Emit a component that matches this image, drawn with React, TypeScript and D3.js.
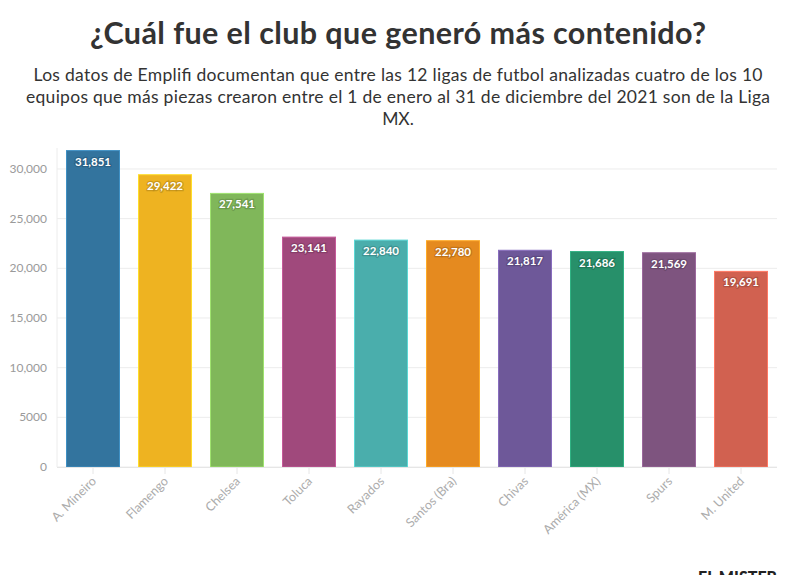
import { useEffect, useRef } from 'react'
import * as d3 from 'd3'

const clubs = ['A. Mineiro', 'Flamengo', 'Chelsea', 'Toluca', 'Rayados', 'Santos (Bra)', 'Chivas', 'América (MX)', 'Spurs', 'M. United']
const piezas = [31851, 29422, 27541, 23141, 22840, 22780, 21817, 21686, 21569, 19691]
const colores = ['#33749e', '#eeb321', '#80b75a', '#a0497c', '#4aaeac', '#e58a1f', '#6e5899', '#27906a', '#7e547f', '#d16150']
const yTicks = [0, 5000, 10000, 15000, 20000, 25000, 30000]
const subtitulo = [
  'Los datos de Emplifi documentan que entre las 12 ligas de futbol analizadas cuatro de los 10',
  'equipos que más piezas crearon entre el 1 de enero al 31 de diciembre del 2021 son de la Liga',
  'MX.',
]

const FONT = '"Source Sans Pro", Lato, "Open Sans", sans-serif'

export default function App() {
  const svgRef = useRef<SVGSVGElement>(null)

  useEffect(() => {
    if (!svgRef.current) return
    const width = 796
    const height = 575
    const left = 57
    const right = 777
    const bottom = 467

    const svg = d3.select(svgRef.current)
    svg.selectAll('*').remove()
    svg.attr('width', width).attr('height', height)

    svg.append('rect').attr('width', width).attr('height', height).attr('fill', '#fff')

    // Title + subtitle
    svg.append('text')
      .attr('x', width / 2).attr('y', 44)
      .attr('text-anchor', 'middle')
      .attr('font-family', FONT).attr('font-weight', 700).attr('font-size', 30.5)
      .attr('fill', '#333')
      .attr('textLength', 616).attr('lengthAdjust', 'spacing')
      .text('¿Cuál fue el club que generó más contenido?')

    const subLen = [729, 744, null]
    svg.append('g').selectAll('text').data(subtitulo).join('text')
      .attr('x', width / 2).attr('y', (_, i) => 81 + i * 22)
      .attr('text-anchor', 'middle')
      .attr('font-family', FONT).attr('font-size', 17.5)
      .attr('fill', '#333')
      .attr('textLength', (_, i) => subLen[i])
      .attr('lengthAdjust', 'spacing')
      .text((d) => d)

    const x = d3.scaleBand(clubs, [left, right]).paddingInner(0.25).paddingOuter(0.125)
    const y = d3.scaleLinear([0, 32000], [bottom, bottom - 317.9])

    // gridlines
    svg.append('g').selectAll('line').data(yTicks).join('line')
      .attr('x1', left).attr('x2', right)
      .attr('y1', (d) => y(d)).attr('y2', (d) => y(d))
      .attr('stroke', '#ececec').attr('stroke-width', 1)

    svg.append('line')
      .attr('x1', left).attr('x2', left).attr('y1', 148).attr('y2', bottom)
      .attr('stroke', '#ececec')

    // y labels
    const fmt = (d: number) => (d >= 10000 ? d3.format(',')(d) : String(d))
    svg.append('g').selectAll('text').data(yTicks).join('text')
      .attr('x', 47).attr('y', (d) => y(d) + 4)
      .attr('text-anchor', 'end')
      .attr('font-family', FONT).attr('font-size', 12)
      .attr('fill', '#9a9a9a')
      .text((d) => fmt(d))

    // bars
    const g = svg.append('g')
    g.selectAll('rect').data(piezas).join('rect')
      .attr('x', (_, i) => x(clubs[i])! + 0.5)
      .attr('y', (d) => y(d))
      .attr('width', x.bandwidth() - 1)
      .attr('height', (d) => bottom - y(d))
      .attr('fill', (_, i) => colores[i])
      .attr('stroke', (_, i) => d3.color(colores[i])!.brighter(0.6).formatHex())
      .attr('stroke-width', 1)

    // x axis baseline + ticks
    svg.append('line')
      .attr('x1', left).attr('x2', right).attr('y1', bottom + 0.5).attr('y2', bottom + 0.5)
      .attr('stroke', '#e6e6e6')
    svg.append('g').selectAll('line').data(clubs).join('line')
      .attr('x1', (d) => x(d)! + x.bandwidth() / 2).attr('x2', (d) => x(d)! + x.bandwidth() / 2)
      .attr('y1', bottom).attr('y2', bottom + 7)
      .attr('stroke', '#e6e6e6')

    // value labels
    const vfmt = d3.format(',')
    g.selectAll('text.val').data(piezas).join('text')
      .attr('class', 'val')
      .attr('x', (_, i) => x(clubs[i])! + x.bandwidth() / 2)
      .attr('y', (d) => y(d) + 15)
      .attr('text-anchor', 'middle')
      .attr('font-family', FONT).attr('font-weight', 700).attr('font-size', 11.5)
      .attr('fill', '#fff')
      .attr('stroke', (_, i) => d3.color(colores[i])!.darker(0.8).formatHex())
      .attr('stroke-width', 2.5)
      .attr('stroke-opacity', 0.6)
      .attr('paint-order', 'stroke')
      .text((d) => vfmt(d))

    // x labels
    svg.append('g').selectAll('text').data(clubs).join('text')
      .attr('transform', (d) => `translate(${x(d)! + x.bandwidth() / 2 + 4},${bottom + 15}) rotate(-45)`)
      .attr('text-anchor', 'end')
      .attr('font-family', FONT).attr('font-size', 12.5)
      .attr('fill', '#acacac')
      .text((d) => d)

    // logo (cut off at the bottom edge, as in the original)
    svg.append('text')
      .attr('x', 777).attr('y', 583)
      .attr('text-anchor', 'end')
      .attr('font-family', FONT).attr('font-weight', 900).attr('font-size', 16)
      .attr('fill', '#222')
      .text('EL MISTER')
  }, [])

  return (
    <div style={{ position: 'fixed', left: 0, top: 0, width: 796, height: 575, overflow: 'hidden' }}>
      <svg ref={svgRef} style={{ display: 'block' }} />
    </div>
  )
}
